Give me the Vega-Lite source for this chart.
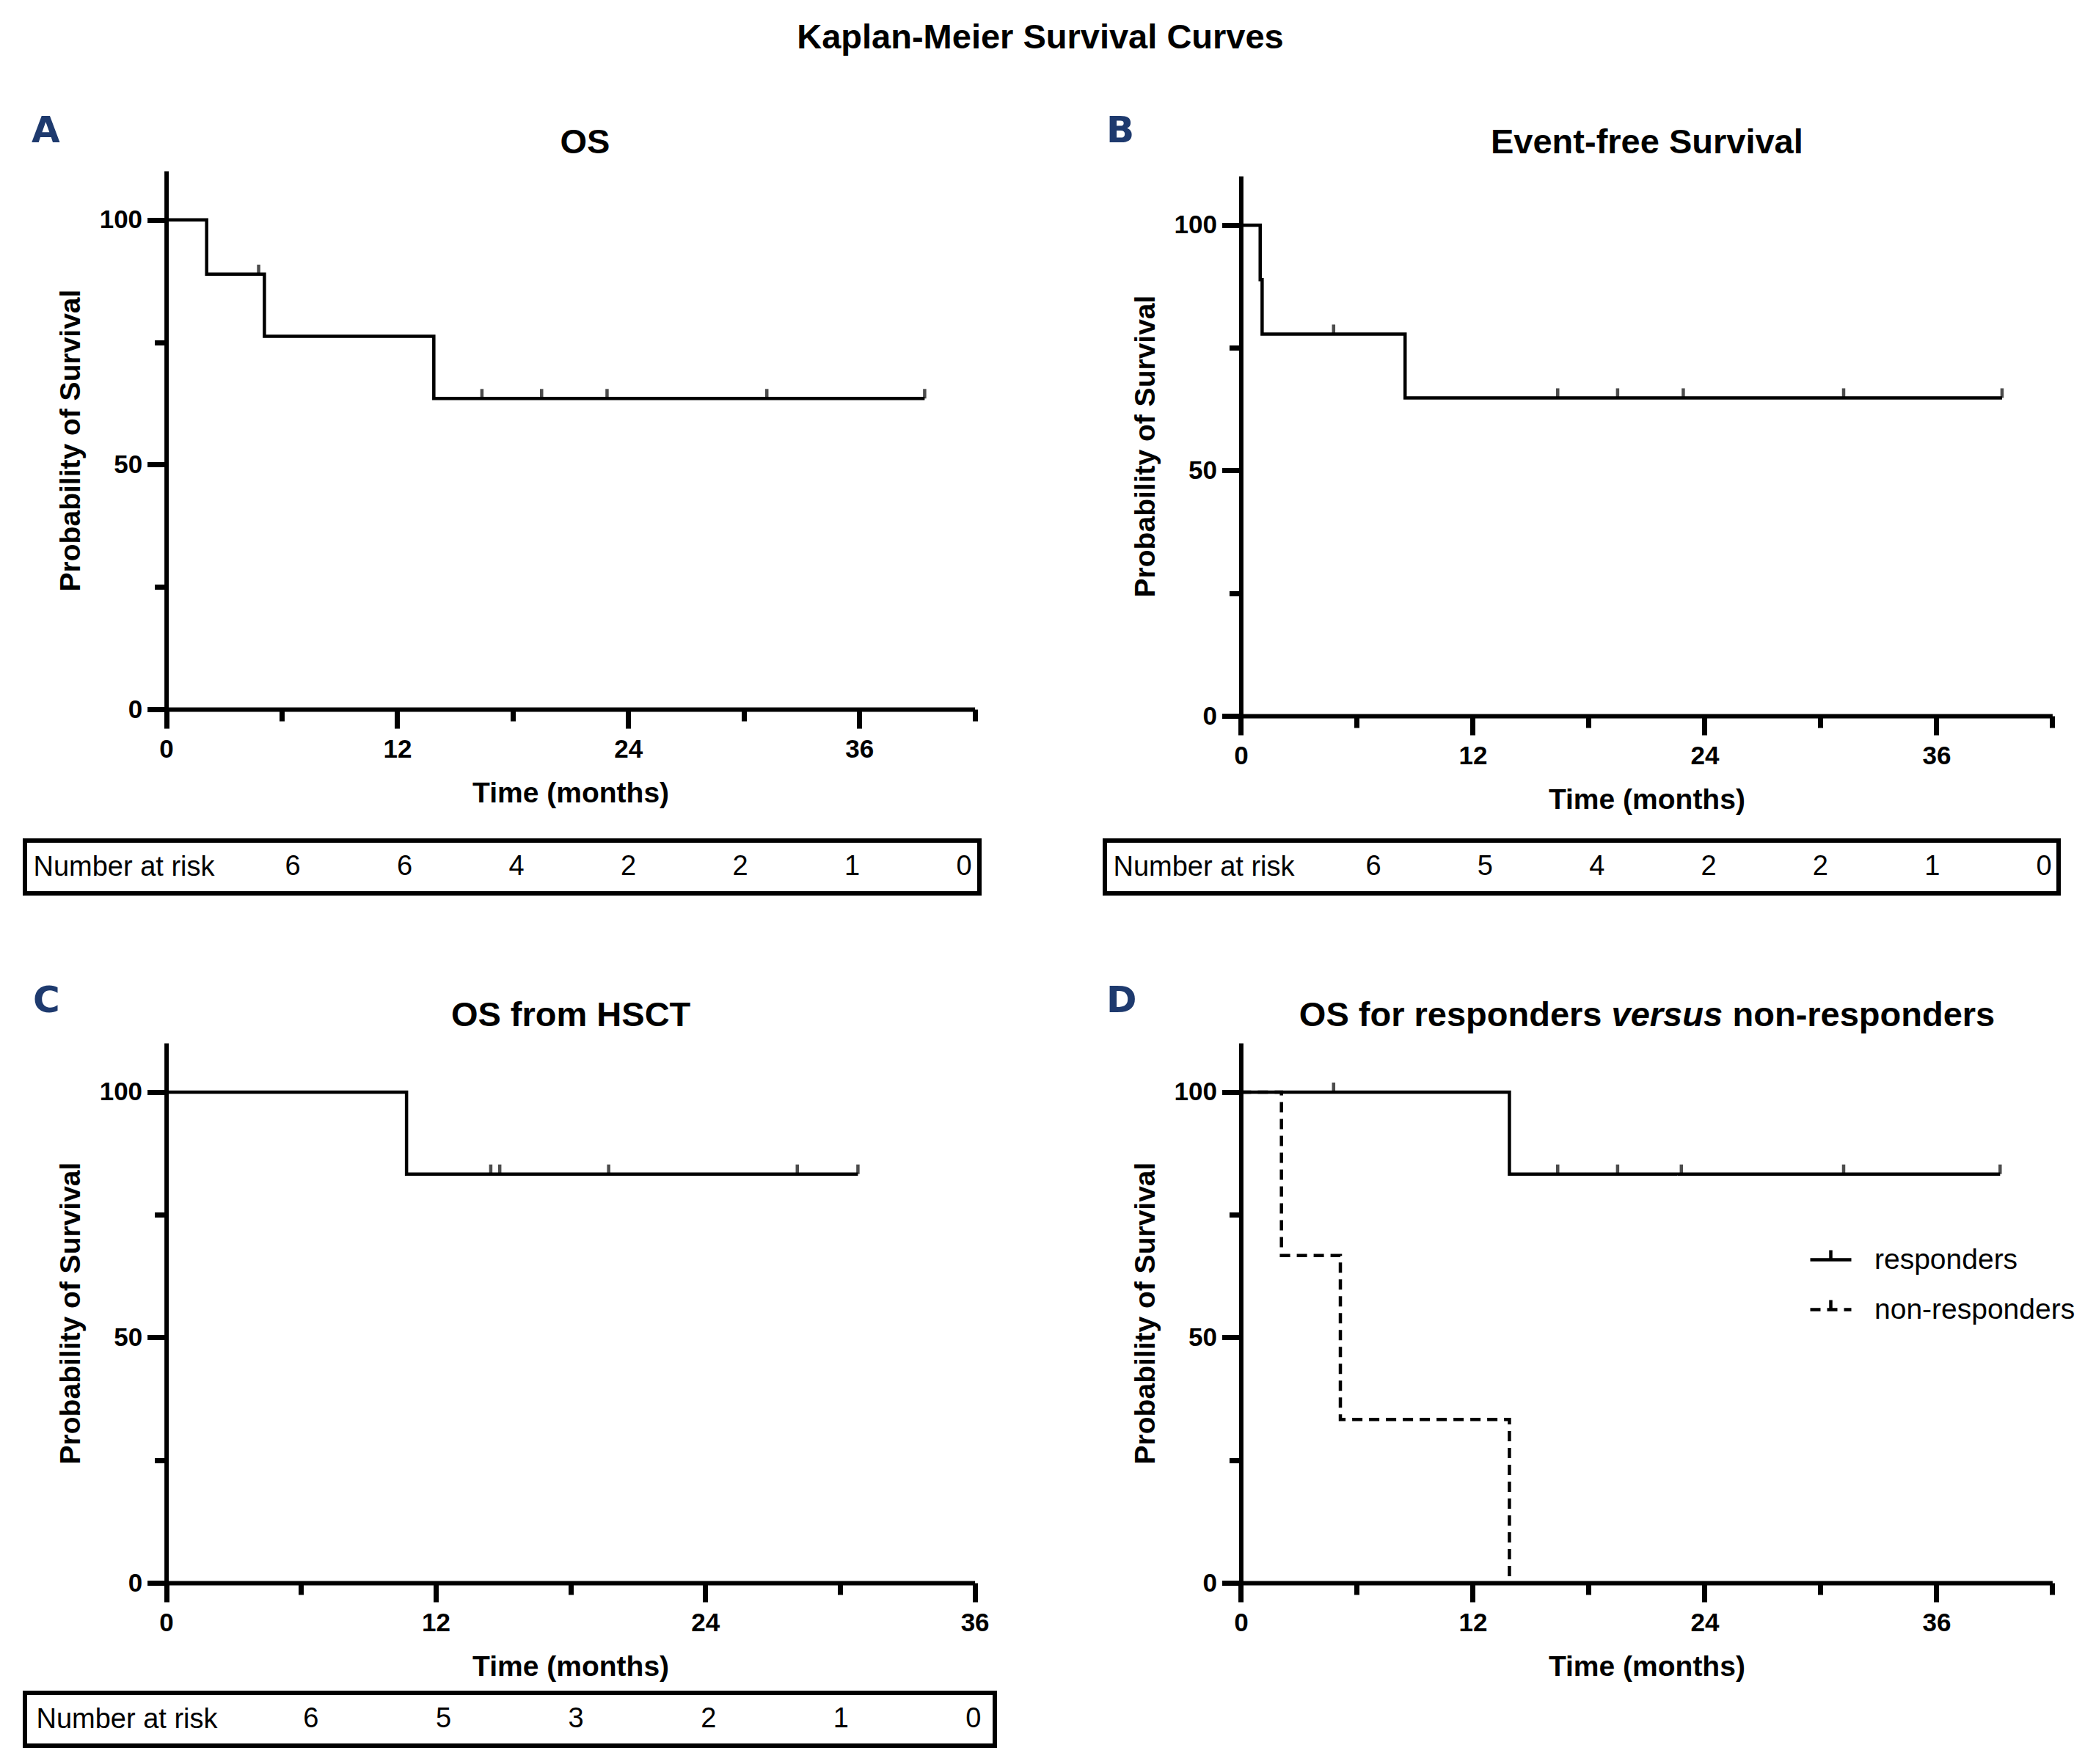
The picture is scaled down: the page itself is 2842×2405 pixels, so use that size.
{
  "$schema": "https://vega.github.io/schema/vega-lite/v6.json",
  "padding": {"left": 31, "top": 28, "right": 18, "bottom": 25},
  "title": {"text": "Kaplan-Meier Survival Curves", "font": "Liberation Sans", "fontSize": 47, "fontWeight": "bold", "color": "black", "anchor": "middle", "offset": 78, "dx": -12},
  "datasets": {
    "osSteps": [{"time": 0, "surv": 100}, {"time": 2.1, "surv": 88.9}, {"time": 5.1, "surv": 76.2}, {"time": 13.9, "surv": 63.5}, {"time": 39.4, "surv": 63.5}],
    "osCens": [{"time": 4.8, "surv": 88.9}, {"time": 16.4, "surv": 63.5}, {"time": 19.5, "surv": 63.5}, {"time": 22.9, "surv": 63.5}, {"time": 31.2, "surv": 63.5}, {"time": 39.4, "surv": 63.5}],
    "efsSteps": [{"time": 0, "surv": 100}, {"time": 1.0, "surv": 88.9}, {"time": 1.1, "surv": 77.8}, {"time": 8.5, "surv": 64.8}, {"time": 39.4, "surv": 64.8}],
    "efsCens": [{"time": 4.8, "surv": 77.8}, {"time": 16.4, "surv": 64.8}, {"time": 19.5, "surv": 64.8}, {"time": 22.9, "surv": 64.8}, {"time": 31.2, "surv": 64.8}, {"time": 39.4, "surv": 64.8}],
    "hsctSteps": [{"time": 0, "surv": 100}, {"time": 10.7, "surv": 83.3}, {"time": 30.8, "surv": 83.3}],
    "hsctCens": [{"time": 14.45, "surv": 83.3}, {"time": 14.85, "surv": 83.3}, {"time": 19.7, "surv": 83.3}, {"time": 28.1, "surv": 83.3}, {"time": 30.8, "surv": 83.3}],
    "respSteps": [
      {"group": "responders", "time": 0, "surv": 100}, {"group": "responders", "time": 13.9, "surv": 83.3}, {"group": "responders", "time": 39.3, "surv": 83.3},
      {"group": "non-responders", "time": 0, "surv": 100}, {"group": "non-responders", "time": 2.1, "surv": 66.7}, {"group": "non-responders", "time": 5.15, "surv": 33.3}, {"group": "non-responders", "time": 13.9, "surv": 0}
    ],
    "respCens": [{"time": 4.8, "surv": 100}, {"time": 16.4, "surv": 83.3}, {"time": 19.5, "surv": 83.3}, {"time": 22.8, "surv": 83.3}, {"time": 31.2, "surv": 83.3}, {"time": 39.3, "surv": 83.3}],
    "riskA": [{"row": "Number at risk", "col": 1, "n": 6}, {"row": "Number at risk", "col": 2, "n": 6}, {"row": "Number at risk", "col": 3, "n": 4}, {"row": "Number at risk", "col": 4, "n": 2}, {"row": "Number at risk", "col": 5, "n": 2}, {"row": "Number at risk", "col": 6, "n": 1}, {"row": "Number at risk", "col": 7, "n": 0}],
    "riskB": [{"row": "Number at risk", "col": 1, "n": 6}, {"row": "Number at risk", "col": 2, "n": 5}, {"row": "Number at risk", "col": 3, "n": 4}, {"row": "Number at risk", "col": 4, "n": 2}, {"row": "Number at risk", "col": 5, "n": 2}, {"row": "Number at risk", "col": 6, "n": 1}, {"row": "Number at risk", "col": 7, "n": 0}],
    "riskC": [{"row": "Number at risk", "col": 1, "n": 6}, {"row": "Number at risk", "col": 2, "n": 5}, {"row": "Number at risk", "col": 3, "n": 3}, {"row": "Number at risk", "col": 4, "n": 2}, {"row": "Number at risk", "col": 5, "n": 1}, {"row": "Number at risk", "col": 6, "n": 0}]
  },
  "align": "none",
  "spacing": 119,
  "resolve": {"legend": {"strokeDash": "independent"}},
  "vconcat": [
    {
      "align": "none",
      "spacing": 165,
      "hconcat": [
        {
          "align": "none",
          "spacing": 42,
          "vconcat": [
            {
              "width": 1294.6, "height": 734,
              "title": {"text": "A", "anchor": "start", "frame": "bounds", "font": "DejaVu Sans", "fontSize": 50, "fontWeight": "bold", "color": "#1e3a6e", "offset": -34, "dx": 9},
              "layer": [
                {
                  "data": {"name": "osSteps"},
                  "mark": {"type": "line", "interpolate": "step-after", "color": "black", "strokeWidth": 4.5},
                  "encoding": {
                    "x": {"field": "time", "type": "quantitative", "scale": {"domain": [0, 42], "range": [192.6, 1294.6], "nice": false, "zero": false},
                      "axis": {"orient": "bottom", "values": [0, 6, 12, 18, 24, 30, 36, 42], "labelExpr": "datum.value % 12 === 0 ? datum.label : ''", "tickSize": {"condition": {"test": "datum.value % 12 === 0", "value": 26}, "value": 16}, "labelPadding": 11, "title": "Time (months)", "titleFont": "Liberation Sans", "titleFontSize": 39, "titleFontWeight": "bold", "titlePadding": 23}},
                    "y": {"field": "surv", "type": "quantitative", "scale": {"domain": [0, 110], "nice": false},
                      "axis": {"offset": -192.6, "values": [0, 25, 50, 75, 100], "labelExpr": "datum.value % 50 === 0 ? datum.label : ''", "tickSize": {"condition": {"test": "datum.value % 50 === 0", "value": 26}, "value": 16}, "labelPadding": 7, "title": "Probability of Survival", "titleFont": "Liberation Sans", "titleFontSize": 39, "titleFontWeight": "bold", "titlePadding": 19}}
                  }
                },
                {
                  "data": {"name": "osCens"},
                  "mark": {"type": "tick", "orient": "vertical", "color": "black", "size": 13, "thickness": 4.5, "yOffset": -6.5},
                  "encoding": {
                    "x": {"field": "time", "type": "quantitative", "axis": {"orient": "top", "title": "OS", "titleX": 763, "domain": false, "ticks": false, "labels": false, "titleFont": "Liberation Sans", "titleFontSize": 47, "titleFontWeight": "bold", "titleBaseline": "alphabetic", "titlePadding": 25}},
                    "y": {"field": "surv", "type": "quantitative"}
                  }
                }
              ],
              "resolve": {"axis": {"x": "independent"}}
            },
            {
              "width": 1301, "height": 72,
              "view": {"stroke": "black", "strokeWidth": 6},
              "data": {"name": "riskA"},
              "mark": {"type": "text", "font": "Liberation Sans", "fontSize": 38, "color": "black", "baseline": "middle"},
              "encoding": {
                "x": {"field": "col", "type": "quantitative", "scale": {"domain": [-1.393, 7.138], "nice": false, "zero": false}, "axis": null},
                "y": {"field": "row", "type": "nominal", "axis": {"title": null, "domain": false, "ticks": false, "tickSize": 0, "labelAlign": "left", "labelPadding": -11, "labelFont": "Liberation Sans", "labelFontSize": 38, "labelFontWeight": "normal", "labelBaseline": "middle", "labelLimit": 0}},
                "text": {"field": "n", "type": "quantitative"}
              }
            }
          ]
        },
        {
          "align": "none",
          "spacing": 33,
          "vconcat": [
            {
              "width": 1291.4, "height": 743,
              "title": {"text": "B", "anchor": "start", "frame": "bounds", "font": "DejaVu Sans", "fontSize": 50, "fontWeight": "bold", "color": "#1e3a6e", "offset": -34, "dx": 2},
              "layer": [
                {
                  "data": {"name": "efsSteps"},
                  "mark": {"type": "line", "interpolate": "step-after", "color": "black", "strokeWidth": 4.5},
                  "encoding": {
                    "x": {"field": "time", "type": "quantitative", "scale": {"domain": [0, 42], "range": [185.4, 1291.4], "nice": false, "zero": false},
                      "axis": {"orient": "bottom", "values": [0, 6, 12, 18, 24, 30, 36, 42], "labelExpr": "datum.value % 12 === 0 ? datum.label : ''", "tickSize": {"condition": {"test": "datum.value % 12 === 0", "value": 26}, "value": 16}, "labelPadding": 11, "title": "Time (months)", "titleFont": "Liberation Sans", "titleFontSize": 39, "titleFontWeight": "bold", "titlePadding": 23}},
                    "y": {"field": "surv", "type": "quantitative", "scale": {"domain": [0, 110], "range": [743, 7], "nice": false},
                      "axis": {"offset": -185.4, "values": [0, 25, 50, 75, 100], "labelExpr": "datum.value % 50 === 0 ? datum.label : ''", "tickSize": {"condition": {"test": "datum.value % 50 === 0", "value": 26}, "value": 16}, "labelPadding": 7, "title": "Probability of Survival", "titleFont": "Liberation Sans", "titleFontSize": 39, "titleFontWeight": "bold", "titlePadding": 19}}
                  }
                },
                {
                  "data": {"name": "efsCens"},
                  "mark": {"type": "tick", "orient": "vertical", "color": "black", "size": 13, "thickness": 4.5, "yOffset": -6.5},
                  "encoding": {
                    "x": {"field": "time", "type": "quantitative", "axis": {"orient": "top", "title": "Event-free Survival", "domain": false, "ticks": false, "labels": false, "titleFont": "Liberation Sans", "titleFontSize": 47, "titleFontWeight": "bold", "titleBaseline": "alphabetic", "titlePadding": 25}},
                    "y": {"field": "surv", "type": "quantitative"}
                  }
                }
              ],
              "resolve": {"axis": {"x": "independent"}}
            },
            {
              "width": 1300, "height": 72,
              "view": {"stroke": "black", "strokeWidth": 6},
              "data": {"name": "riskB"},
              "mark": {"type": "text", "font": "Liberation Sans", "fontSize": 38, "color": "black", "baseline": "middle"},
              "encoding": {
                "x": {"field": "col", "type": "quantitative", "scale": {"domain": [-1.403, 7.131], "nice": false, "zero": false}, "axis": null},
                "y": {"field": "row", "type": "nominal", "axis": {"title": null, "domain": false, "ticks": false, "tickSize": 0, "labelAlign": "left", "labelPadding": -11, "labelFont": "Liberation Sans", "labelFontSize": 38, "labelFontWeight": "normal", "labelBaseline": "middle", "labelLimit": 0}},
                "text": {"field": "n", "type": "quantitative"}
              }
            }
          ]
        }
      ]
    },
    {
      "align": "none",
      "spacing": 147,
      "resolve": {"legend": {"strokeDash": "independent"}},
      "hconcat": [
        {
          "align": "none",
          "spacing": 13,
          "vconcat": [
            {
              "width": 1294.6, "height": 736,
              "title": {"text": "C", "anchor": "start", "frame": "bounds", "font": "DejaVu Sans", "fontSize": 50, "fontWeight": "bold", "color": "#1e3a6e", "offset": -30, "dx": 11},
              "layer": [
                {
                  "data": {"name": "hsctSteps"},
                  "mark": {"type": "line", "interpolate": "step-after", "color": "black", "strokeWidth": 4.5},
                  "encoding": {
                    "x": {"field": "time", "type": "quantitative", "scale": {"domain": [0, 36], "range": [192.6, 1294.6], "nice": false, "zero": false},
                      "axis": {"orient": "bottom", "values": [0, 6, 12, 18, 24, 30, 36], "labelExpr": "datum.value % 12 === 0 ? datum.label : ''", "tickSize": {"condition": {"test": "datum.value % 12 === 0", "value": 26}, "value": 16}, "labelPadding": 11, "title": "Time (months)", "titleFont": "Liberation Sans", "titleFontSize": 39, "titleFontWeight": "bold", "titlePadding": 23}},
                    "y": {"field": "surv", "type": "quantitative", "scale": {"domain": [0, 110], "nice": false},
                      "axis": {"offset": -192.6, "values": [0, 25, 50, 75, 100], "labelExpr": "datum.value % 50 === 0 ? datum.label : ''", "tickSize": {"condition": {"test": "datum.value % 50 === 0", "value": 26}, "value": 16}, "labelPadding": 7, "title": "Probability of Survival", "titleFont": "Liberation Sans", "titleFontSize": 39, "titleFontWeight": "bold", "titlePadding": 19}}
                  }
                },
                {
                  "data": {"name": "hsctCens"},
                  "mark": {"type": "tick", "orient": "vertical", "color": "black", "size": 13, "thickness": 4.5, "yOffset": -6.5},
                  "encoding": {
                    "x": {"field": "time", "type": "quantitative", "axis": {"orient": "top", "title": "OS from HSCT", "domain": false, "ticks": false, "labels": false, "titleFont": "Liberation Sans", "titleFontSize": 47, "titleFontWeight": "bold", "titleBaseline": "alphabetic", "titlePadding": 24}},
                    "y": {"field": "surv", "type": "quantitative"}
                  }
                }
              ],
              "resolve": {"axis": {"x": "independent"}}
            },
            {
              "width": 1322, "height": 72,
              "view": {"stroke": "black", "strokeWidth": 6},
              "data": {"name": "riskC"},
              "mark": {"type": "text", "font": "Liberation Sans", "fontSize": 38, "color": "black", "baseline": "middle"},
              "encoding": {
                "x": {"field": "col", "type": "quantitative", "scale": {"domain": [-1.159, 6.161], "nice": false, "zero": false}, "axis": null},
                "y": {"field": "row", "type": "nominal", "axis": {"title": null, "domain": false, "ticks": false, "tickSize": 0, "labelAlign": "left", "labelPadding": -15, "labelFont": "Liberation Sans", "labelFontSize": 38, "labelFontWeight": "normal", "labelBaseline": "middle", "labelLimit": 0}},
                "text": {"field": "n", "type": "quantitative"}
              }
            }
          ]
        },
        {
          "width": 1291.4, "height": 736,
          "title": {"text": "D", "anchor": "start", "frame": "bounds", "font": "DejaVu Sans", "fontSize": 50, "fontWeight": "bold", "color": "#1e3a6e", "offset": -30, "dx": 2},
          "layer": [
            {
              "data": {"name": "respSteps"},
              "mark": {"type": "line", "interpolate": "step-after", "color": "black", "strokeWidth": 4.5},
              "encoding": {
                "x": {"field": "time", "type": "quantitative", "scale": {"domain": [0, 42], "range": [185.4, 1291.4], "nice": false, "zero": false},
                  "axis": {"orient": "bottom", "values": [0, 6, 12, 18, 24, 30, 36, 42], "labelExpr": "datum.value % 12 === 0 ? datum.label : ''", "tickSize": {"condition": {"test": "datum.value % 12 === 0", "value": 26}, "value": 16}, "labelPadding": 11, "title": "Time (months)", "titleFont": "Liberation Sans", "titleFontSize": 39, "titleFontWeight": "bold", "titlePadding": 23}},
                "y": {"field": "surv", "type": "quantitative", "scale": {"domain": [0, 110], "nice": false},
                  "axis": {"offset": -185.4, "values": [0, 25, 50, 75, 100], "labelExpr": "datum.value % 50 === 0 ? datum.label : ''", "tickSize": {"condition": {"test": "datum.value % 50 === 0", "value": 26}, "value": 16}, "labelPadding": 7, "title": "Probability of Survival", "titleFont": "Liberation Sans", "titleFontSize": 39, "titleFontWeight": "bold", "titlePadding": 19}},
                "strokeDash": {"field": "group", "type": "nominal", "scale": {"domain": ["responders", "non-responders"], "range": [[1, 0], [14, 9]]},
                  "legend": {"orient": "none", "legendX": 959, "legendY": 265, "title": null, "padding": 0, "symbolType": "M-1,0H1M0,0V-0.46", "symbolSize": 3136, "symbolStrokeWidth": 4.5, "symbolStrokeColor": "black", "symbolFillColor": "transparent", "labelFont": "Liberation Sans", "labelFontSize": 39, "labelFontWeight": "normal", "labelColor": "black", "labelOffset": 29, "rowPadding": 17, "labelLimit": 0}}
              }
            },
            {
              "data": {"name": "respCens"},
              "mark": {"type": "tick", "orient": "vertical", "color": "black", "size": 13, "thickness": 4.5, "yOffset": -6.5},
              "encoding": {
                "x": {"field": "time", "type": "quantitative", "axis": {"orient": "top", "title": "OS for responders", "titleX": 677, "titleAlign": "right", "domain": false, "ticks": false, "labels": false, "titleFont": "Liberation Sans", "titleFontSize": 47, "titleFontWeight": "bold", "titleBaseline": "alphabetic", "titlePadding": 24}},
                "y": {"field": "surv", "type": "quantitative"}
              }
            },
            {
              "data": {"name": "respCens"},
              "mark": {"type": "tick", "orient": "vertical", "opacity": 0, "size": 13, "thickness": 4.5, "yOffset": -6.5},
              "encoding": {
                "x": {"field": "time", "type": "quantitative", "axis": {"orient": "top", "title": "versus", "titleX": 690, "titleAlign": "left", "titleFontStyle": "italic", "domain": false, "ticks": false, "labels": false, "titleFont": "Liberation Sans", "titleFontSize": 47, "titleFontWeight": "bold", "titleBaseline": "alphabetic", "titlePadding": 24}},
                "y": {"field": "surv", "type": "quantitative"}
              }
            },
            {
              "data": {"name": "respCens"},
              "mark": {"type": "tick", "orient": "vertical", "opacity": 0, "size": 13, "thickness": 4.5, "yOffset": -6.5},
              "encoding": {
                "x": {"field": "time", "type": "quantitative", "axis": {"orient": "top", "title": "non-responders", "titleX": 855, "titleAlign": "left", "domain": false, "ticks": false, "labels": false, "titleFont": "Liberation Sans", "titleFontSize": 47, "titleFontWeight": "bold", "titleBaseline": "alphabetic", "titlePadding": 24}},
                "y": {"field": "surv", "type": "quantitative"}
              }
            }
          ],
          "resolve": {"axis": {"x": "independent"}}
        }
      ]
    }
  ],
  "config": {
    "font": "Liberation Sans",
    "view": {"stroke": null},
    "axis": {"domainColor": "black", "domainWidth": 6, "tickColor": "black", "tickWidth": 7, "labelColor": "black", "labelFont": "Liberation Sans", "labelFontSize": 35, "labelFontWeight": "bold", "titleColor": "black", "grid": false, "labelFlush": false, "labelOverlap": false},
    "legend": {"labelColor": "black"}
  }
}
